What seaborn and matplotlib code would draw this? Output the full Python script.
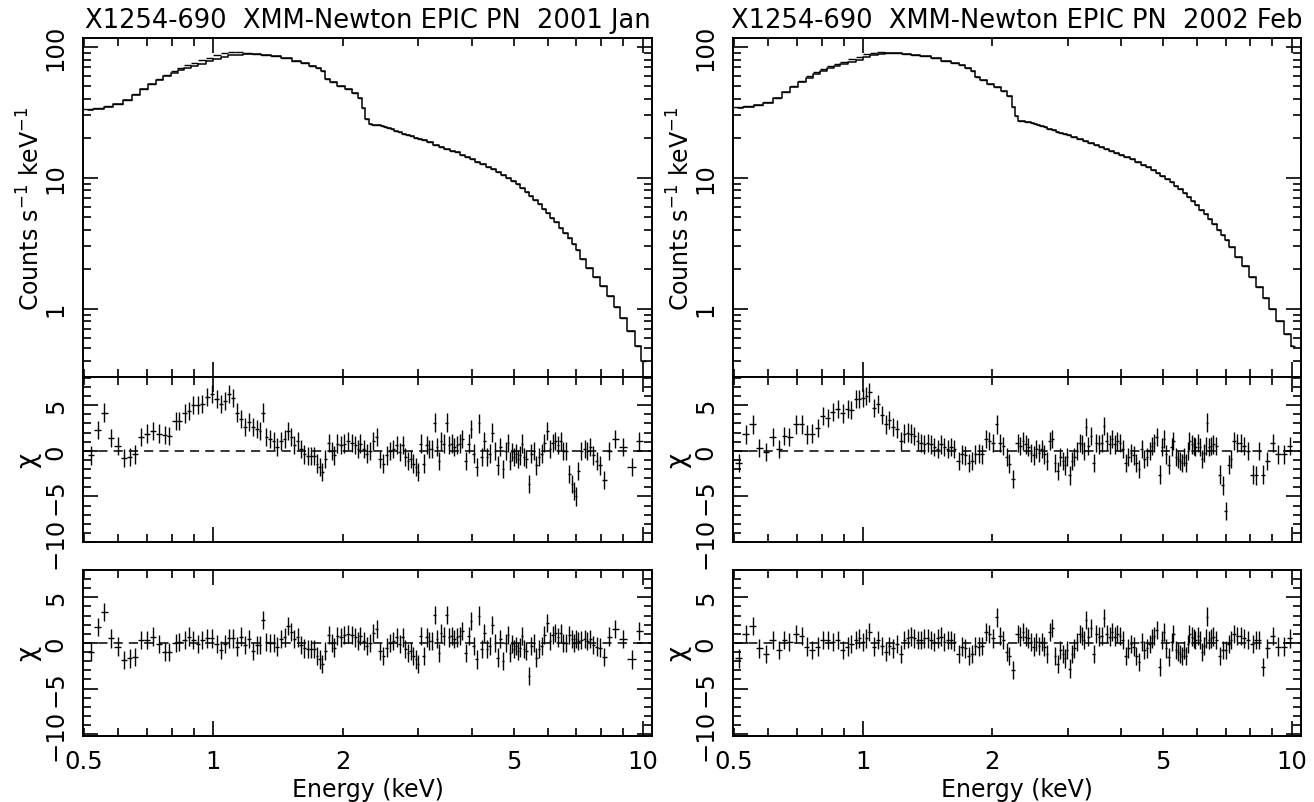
import numpy as np
import matplotlib
matplotlib.use("Agg")
import matplotlib.pyplot as plt
import seaborn as sns
from matplotlib.ticker import FixedLocator, FixedFormatter, NullFormatter


# titles
title_left = "X1254-690  XMM-Newton EPIC PN  2001 Jan"
title_right = "X1254-690  XMM-Newton EPIC PN  2002 Feb"

# spectrum bins (keV), shared by both observations
spec_energy = [
    0.51, 0.54, 0.57, 0.60, 0.63, 0.66, 0.69, 0.72, 0.75, 0.78, 0.81, 0.84, 0.87, 0.90,
    0.94, 0.98, 1.02, 1.06, 1.10, 1.15, 1.20, 1.26, 1.32,
    1.40, 1.48, 1.56, 1.64, 1.70, 1.76, 1.80, 1.84, 1.90, 1.98, 2.06, 2.14, 2.20, 2.24,
    2.28, 2.32,
    2.36, 2.40, 2.44, 2.48, 2.52, 2.56, 2.61, 2.66, 2.72, 2.78,
    2.84, 2.90, 2.96, 3.02, 3.10, 3.20, 3.30, 3.40, 3.50, 3.60,
    3.70, 3.80, 3.90, 4.00, 4.12, 4.25, 4.37, 4.50, 4.62, 4.75,
    4.87, 5.00, 5.12, 5.25, 5.37, 5.50, 5.62, 5.75, 5.87, 6.00,
    6.15, 6.30, 6.45, 6.60, 6.75, 6.90, 7.05, 7.25, 7.50, 7.80,
    8.10, 8.40, 8.70, 9.00, 9.40, 9.80, 10.05,
]

# 2001 Jan spectrum: data (counts s^-1 keV^-1)
spec_data_left = [
    33.5, 34.3, 35.3, 36.8, 39.5, 43.5, 48.0, 52.5, 57.0, 61.5, 66.0, 69.5, 72.5, 75.5,
    79.0, 82.5, 86.5, 89.5, 91.5, 91.0, 90.0, 89.0, 87.5,
    85.0, 82.0, 78.5, 75.0, 72.0, 68.5, 65.0, 57.0, 53.5, 50.5, 47.5, 44.5, 41.0, 34.0,
    28.0, 25.8,
    25.5, 25.3, 25.1, 24.8, 24.4, 24.0, 23.5, 22.9, 22.3, 21.7,
    21.2, 20.7, 20.3, 19.9, 19.3, 18.6, 17.9, 17.3, 16.7, 16.1,
    15.6, 15.0, 14.5, 13.9, 13.3, 12.7, 12.1, 11.6, 11.0, 10.5,
    10.0, 9.5, 8.9, 8.4, 7.8, 7.3, 6.8, 6.3, 5.8, 5.4,
    4.95, 4.55, 4.15, 3.8, 3.45, 3.1, 2.8, 2.4, 2.05, 1.75,
    1.5, 1.25, 1.02, 0.85, 0.68, 0.52, 0.40,
]
# model below 1.35 keV (above it the model sits on the data)
spec_model_soft_left = [
    32.8, 33.6, 34.8, 36.5, 39.3, 43.2, 47.5, 51.8, 55.8, 59.8, 63.5, 66.5, 69.0, 71.5,
    74.5, 77.5, 80.5, 83.5, 86.0, 87.5, 88.5, 88.5, 87.5,
]

# 2002 Feb spectrum: data
spec_data_right = [
    34.5, 35.3, 36.3, 37.8, 41.0, 45.5, 50.0, 55.0, 59.5, 64.0, 68.0, 71.5, 74.5, 77.0,
    80.5, 84.0, 88.0, 90.5, 91.0, 90.5, 90.0, 89.0, 87.5,
    85.0, 82.0, 78.5, 75.5, 72.5, 69.5, 66.0, 58.5, 55.5, 52.5, 49.5, 46.0, 42.5, 35.0,
    29.5, 27.2,
    27.0, 26.8, 26.6, 26.3, 25.9, 25.5, 24.9, 24.3, 23.6, 23.0,
    22.5, 22.0, 21.6, 21.2, 20.4, 19.7, 19.0, 18.3, 17.7, 17.1,
    16.5, 16.0, 15.5, 15.0, 14.4, 13.8, 13.2, 12.6, 12.0, 11.4,
    10.8, 10.3, 9.7, 9.2, 8.7, 8.2, 7.6, 7.1, 6.6, 6.2,
    5.7, 5.25, 4.8, 4.4, 4.0, 3.65, 3.35, 2.95, 2.5, 2.1,
    1.75, 1.45, 1.2, 1.0, 0.8, 0.64, 0.52,
]
spec_model_soft_right = [
    34.0, 34.8, 35.9, 37.5, 40.7, 45.0, 49.3, 54.0, 58.3, 62.5, 65.8, 68.7, 71.2, 73.5,
    76.5, 79.7, 83.3, 86.2, 88.3, 89.4, 89.6, 89.0, 87.5,
]

# 2001 Jan residual bins (keV)
res_energy_left = [
    0.519, 0.538, 0.557, 0.578, 0.598, 0.620, 0.639, 0.656, 0.678, 0.700,
    0.725, 0.748, 0.771, 0.789, 0.817, 0.832, 0.858, 0.878, 0.898, 0.921,
    0.943, 0.968, 0.994, 1.017, 1.040, 1.062, 1.087, 1.113, 1.137, 1.161,
    1.182, 1.209, 1.235, 1.265, 1.282, 1.306, 1.329, 1.358, 1.382, 1.407,
    1.433, 1.464, 1.493, 1.517, 1.544, 1.571, 1.600, 1.628, 1.657, 1.687,
    1.718, 1.743, 1.767, 1.790, 1.822, 1.854, 1.888, 1.911, 1.945, 1.981,
    2.016, 2.063, 2.101, 2.139, 2.176,
    2.197, 2.236, 2.276, 2.317, 2.358, 2.401, 2.444, 2.488, 2.533, 2.578,
    2.624, 2.672, 2.720, 2.759, 2.798, 2.843, 2.879, 2.920, 2.962, 2.999,
    3.037, 3.091, 3.136, 3.180, 3.226, 3.273, 3.308, 3.349, 3.391, 3.439,
    3.490, 3.538, 3.589, 3.641, 3.692, 3.745, 3.800, 3.869, 3.926, 3.981,
    4.039, 4.098, 4.155, 4.216, 4.276, 4.337, 4.399, 4.463, 4.525, 4.591,
    4.657, 4.722, 4.790, 4.850, 4.911, 4.965, 5.018, 5.073, 5.127, 5.182,
    5.237, 5.293, 5.350, 5.425, 5.503, 5.583, 5.643, 5.724, 5.808, 5.891,
    5.975, 6.083, 6.169, 6.258, 6.349, 6.437, 6.531, 6.627, 6.745, 6.844,
    6.917, 6.992, 7.066, 7.192, 7.320, 7.426, 7.533, 7.668, 7.805, 7.945,
    8.116, 8.350, 8.623, 8.966, 9.428, 9.803,
]
# residuals (chi) for the first and the second model, 2001 Jan
chi1_left = [
    -0.5, 2.3, 4.2, 1.4, 0.5, -0.8, -0.7, -0.4, 1.5, 1.9,
    2.2, 1.9, 1.7, 1.6, 3.3, 3.3, 4.1, 4.4, 5.0, 5.0,
    5.1, 5.9, 6.2, 5.7, 5.1, 5.5, 6.2, 5.8, 4.2, 3.5,
    2.6, 3.2, 2.6, 2.4, 2.2, 4.2, 1.5, 1.3, 1.1, 0.4,
    1.1, 1.3, 2.2, 1.5, 0.6, 1.1, 0.2, -0.4, -0.6, -0.6,
    -0.6, -1.4, -1.8, -2.3, -0.9, 0.9, 0.0, -0.5, 0.8, 0.6,
    0.8, 1.1, 0.9, 0.6, 0.2,
    0.8, 0.2, -0.3, 0.0, 1.1, 1.5, -0.9, -1.4, -0.5, 0.0,
    0.2, 0.6, -0.1, 0.6, -0.7, -1.1, -0.9, -1.4, -1.8, -2.3,
    0.8, -1.4, 0.6, 0.2, 0.2, 3.1, 0.4, -1.1, 1.1, 0.8,
    3.1, 0.6, 0.8, 0.4, 0.6, 0.8, 1.3, -1.1, 0.8, 2.4,
    -0.3, -1.8, 3.0, -0.7, 1.1, -0.7, -0.3, 2.0, 0.0, -1.6,
    0.4, -2.0, 0.0, 0.9, -1.1, -0.1, -0.7, -0.3, -0.9, -0.5,
    0.8, -0.7, -0.9, -3.6, -0.3, 0.0, -1.6, -0.7, -0.3, 0.9,
    2.2, 0.2, 0.9, 1.1, 0.6, 1.1, 0.0, 0.0, -2.5, -3.6,
    -4.4, -5.0, -2.2, 0.0, 0.2, 0.0, 0.4, -0.5, -1.1, -1.6,
    -3.2, 0.0, 1.3, 0.4, -1.8, 1.1,
]
chi2_left = [
    -1.0, 1.75, 3.4, 0.5, -0.4, -1.9, -1.7, -1.5, 0.3, 0.3,
    0.7, -0.1, -1.0, -1.0, 0.0, 0.1, 0.3, 0.7, 0.3, -0.1,
    0.3, 0.5, 0.5, -0.1, -0.8, -0.1, 0.5, 0.5, -0.4, 0.7,
    -0.2, 0.4, -0.9, -0.2, -0.2, 2.5, 0.1, 0.0, 0.0, -0.4,
    0.4, 0.6, 1.9, 1.2, 0.4, 0.6, -0.2, -0.6, -0.7, -0.7,
    -0.7, -1.4, -1.8, -2.3, -0.9, 0.9, 0.0, -0.5, 0.8, 0.6,
    0.9, 1.0, 0.9, 0.6, 0.2,
    0.8, 0.2, -0.3, 0.0, 1.1, 1.5, -0.9, -1.4, -0.5, 0.0,
    0.2, 0.6, -0.1, 0.6, -0.7, -1.1, -0.9, -1.4, -1.8, -2.3,
    0.8, -1.4, 0.6, 0.2, 0.2, 3.1, 0.4, -1.1, 1.1, 0.8,
    3.1, 0.6, 0.8, 0.4, 0.6, 0.8, 1.3, -1.1, 0.8, 2.4,
    -0.3, -1.8, 3.0, -0.7, 1.1, -0.7, -0.3, 2.0, 0.0, -1.6,
    0.4, -2.0, 0.0, 0.9, -1.1, -0.1, -0.7, -0.3, -0.9, -0.5,
    0.8, -0.7, -0.9, -3.6, -0.3, 0.0, -1.6, -0.7, -0.3, 0.9,
    2.2, 0.2, 0.9, 1.1, 0.6, 1.1, 0.0, 0.0, 0.9, 0.4,
    0.0, 0.4, 0.2, 0.3, 0.4, 0.2, 0.4, -0.2, -0.4, -0.5,
    -1.5, 0.7, 1.5, 0.4, -1.8, 1.3,
]

# 2002 Feb residual bins (keV)
res_energy_right = [
    0.5127, 0.5332, 0.5527, 0.5728, 0.5938, 0.6153, 0.6353, 0.6549, 0.6728, 0.6973,
    0.7202, 0.7385, 0.7600, 0.7833, 0.8045, 0.8265, 0.8492, 0.8723, 0.8961, 0.9205,
    0.9370, 0.9626, 0.9798, 1.001, 1.016, 1.034, 1.062, 1.081, 1.107, 1.131,
    1.151, 1.172, 1.198, 1.226, 1.247, 1.270, 1.293, 1.316, 1.340, 1.364,
    1.388, 1.414, 1.439, 1.465, 1.492, 1.519, 1.546, 1.574, 1.602, 1.631,
    1.670, 1.700, 1.730, 1.762, 1.793, 1.826, 1.859, 1.892, 1.934, 1.968,
    2.004, 2.048, 2.084, 2.121, 2.160, 2.190, 2.238,
    2.292, 2.325, 2.358, 2.393, 2.427, 2.462, 2.498, 2.534, 2.570, 2.607,
    2.644, 2.682, 2.721, 2.760, 2.801, 2.841, 2.882, 2.924, 2.956, 2.988,
    3.032, 3.064, 3.109, 3.154, 3.200, 3.243, 3.279, 3.314, 3.350, 3.398,
    3.448, 3.496, 3.546, 3.598, 3.648, 3.701, 3.755, 3.807, 3.863, 3.919,
    3.974, 4.032, 4.094, 4.152, 4.212, 4.273, 4.334, 4.397, 4.461, 4.524,
    4.589, 4.656, 4.720, 4.770, 4.840, 4.911, 4.965, 5.035, 5.089, 5.163,
    5.238, 5.294, 5.352, 5.410, 5.468, 5.527, 5.587, 5.647, 5.708, 5.769,
    5.832, 5.895, 5.958, 6.023, 6.088, 6.154, 6.221, 6.287, 6.332, 6.399,
    6.468, 6.562, 6.654, 6.799, 6.898, 7.000, 7.124, 7.201, 7.330, 7.464,
    7.598, 7.735, 7.902, 8.104, 8.250, 8.401, 8.583, 8.770, 9.031, 9.262,
    9.596, 9.877,
]
chi1_right = [
    -1.3, 1.8, 2.9, 0.3, -0.1, 1.5, 0.2, 1.6, 1.5, 2.9,
    2.9, 1.8, 1.9, 2.5, 3.8, 3.6, 4.3, 4.6, 4.1, 4.6,
    4.5, 5.7, 5.7, 5.8, 6.0, 6.4, 4.7, 5.1, 3.9, 2.9,
    3.4, 2.6, 2.4, 1.1, 1.9, 2.0, 1.9, 1.6, 1.1, 0.9,
    0.7, 0.9, 0.7, 0.4, 0.2, 0.7, 0.4, 0.2, 0.4, 0.2,
    -1.1, -0.4, -0.5, -1.3, -1.1, -0.4, -0.3, -0.4, 1.3, 1.1,
    0.9, 2.9, 0.9, 0.5, -0.7, -1.4, -3.1,
    0.9, 0.5, 1.1, 0.7, 0.4, -0.2, -0.5, 0.2, -0.2, 0.2,
    -0.4, -1.1, 1.1, 1.3, -1.3, -2.2, -0.7, -1.1, -1.6, -0.7,
    -2.7, -1.1, -0.7, 0.0, 0.9, 0.7, 0.0, 2.6, 0.5, 1.6,
    -1.3, 0.9, 0.7, 0.9, 2.7, 1.1, 0.7, 1.3, 0.7, 1.1,
    0.9, 0.2, -1.3, -0.7, -0.2, -0.5, -1.3, -2.0, 0.2, -0.9,
    -0.7, 0.0, 0.5, 0.9, 1.5, -2.6, 0.4, 1.3, -0.4, -1.5,
    0.4, 1.1, -0.7, -0.9, -1.1, -1.3, -0.7, -1.3, 0.0, 1.1,
    0.7, 0.5, 0.4, 0.9, 0.4, -0.9, -0.2, 0.5, 3.1, 0.4,
    0.5, 0.7, 0.5, -2.6, -3.8, -6.6, -1.5, -0.9, 1.1, 0.9,
    0.9, 0.5, 0.0, -2.6, -2.7, 0.0, -2.6, -1.1, 0.9, -0.4,
    -0.4, 0.5,
]
chi2_right = [
    -1.7, 1.0, 1.9, -0.6, -1.2, 0.3, -0.8, 0.3, 0.1, 1.0,
    0.8, -0.4, -0.8, -0.4, 0.3, 0.3, 0.1, 0.3, -0.8, -0.4,
    -0.1, 0.3, 0.5, 0.1, 0.5, 1.2, -0.4, 0.3, -0.3, -1.0,
    -0.3, -0.6, -0.1, -1.2, 0.3, 0.5, 0.7, 0.5, 0.3, 0.3,
    0.5, 0.5, 0.3, 0.1, 0.5, 0.7, 0.1, 0.3, 0.3, 0.1,
    -1.2, -0.4, -0.6, -1.4, -1.2, -0.3, -0.4, -0.3, 1.2, 1.0,
    0.5, 2.8, 0.8, 0.3, -1.0, -1.4, -3.0,
    1.0, 0.7, 1.2, 0.7, 0.5, 0.1, -0.4, 0.1, -0.3, 0.1,
    -0.4, -1.2, 1.2, 1.6, -1.4, -2.3, -0.8, -1.2, -1.7, -0.8,
    -2.8, -1.2, -0.6, 0.1, 1.0, 0.8, 0.3, 2.5, 0.7, 1.6,
    -1.2, 1.0, 0.7, 0.8, 2.7, 1.0, 0.7, 1.2, 0.7, 1.0,
    0.8, 0.3, -1.4, -0.6, -0.1, -0.4, -1.4, -2.1, 0.1, -0.8,
    -0.6, -0.1, 0.5, 0.8, 1.4, -2.6, 0.3, 1.2, -0.6, -1.5,
    0.1, 1.0, -0.8, -1.0, -1.2, -1.4, -0.8, -1.4, -0.1, 1.0,
    0.7, 0.5, 0.3, 0.8, 0.3, -1.0, -0.3, 0.5, 2.9, 0.3,
    0.5, 0.7, 0.3, -1.4, -0.8, -0.8, -0.1, 0.3, 1.0, 0.8,
    0.8, 0.5, 0.3, -0.1, 0.3, 0.3, -2.6, -0.6, 0.8, -0.4,
    -0.4, 0.5,
]

# tick values and labels
energy_major = [1, 10]
energy_major_labels = ["1", "10"]
energy_minor = [0.5, 0.6, 0.7, 0.8, 0.9, 2, 3, 4, 5, 6, 7, 8, 9]
energy_minor_labels = ["0.5", "", "", "", "", "2", "", "", "5", "", "", "", ""]
counts_major = [1, 10, 100]
counts_major_labels = ["1", "10", "100"]
counts_minor = [0.3, 0.4, 0.5, 0.6, 0.7, 0.8, 0.9, 2, 3, 4, 5, 6, 7, 8, 9,
                20, 30, 40, 50, 60, 70, 80, 90]
chi_major = [-10, -5, 0, 5]
chi_major_labels = ["\u221210", "\u22125", "0", "5"]
chi_minor = [-9, -8, -7, -6, -4, -3, -2, -1, 1, 2, 3, 4, 6, 7, 8]


# style
sns.set_style("ticks")
plt.rcParams["font.family"] = ["DejaVu Sans"]
plt.rcParams["mathtext.default"] = "regular"
plt.rcParams["axes.linewidth"] = 1.4
for key in ["text.color", "axes.labelcolor", "axes.edgecolor", "xtick.color", "ytick.color"]:
    plt.rcParams[key] = "black"

TICK_FS = 17.5
LABEL_FS = 17
TITLE_FS = 18.5
W, H = 1314, 803

fig = plt.figure(figsize=(13.14, 8.03), dpi=100)


def box(x0, x1, y0, y1):
    # pixel box -> figure fraction
    return [x0 / W, 1 - y1 / H, (x1 - x0) / W, (y1 - y0) / H]


def bin_halfwidths(e):
    e = np.asarray(e, dtype=float)
    mid = np.sqrt(e[1:] * e[:-1])
    lo = np.r_[e[0] ** 2 / mid[0], mid]
    hi = np.r_[mid, e[-1] ** 2 / mid[-1]]
    return e - lo, hi - e


def style_energy_axis(ax, show_labels):
    ax.set_xscale("log")
    ax.set_xlim(0.497, 10.5)
    ax.xaxis.set_major_locator(FixedLocator(energy_major))
    ax.xaxis.set_minor_locator(FixedLocator(energy_minor))
    if show_labels:
        ax.xaxis.set_major_formatter(FixedFormatter(energy_major_labels))
        ax.xaxis.set_minor_formatter(FixedFormatter(energy_minor_labels))
    else:
        ax.xaxis.set_major_formatter(NullFormatter())
        ax.xaxis.set_minor_formatter(NullFormatter())
    ax.tick_params(axis="x", which="both", direction="in", top=True, bottom=True,
                   labelsize=TICK_FS, pad=9.5, width=1.2)
    ax.tick_params(axis="x", which="major", length=11)
    ax.tick_params(axis="x", which="minor", length=6)


def style_y_axis(ax, major, labels, minor):
    ax.yaxis.set_major_locator(FixedLocator(major))
    ax.yaxis.set_major_formatter(FixedFormatter(labels))
    ax.yaxis.set_minor_locator(FixedLocator(minor))
    ax.yaxis.set_minor_formatter(NullFormatter())
    ax.tick_params(axis="y", which="both", direction="in", left=True, right=True,
                   labelsize=TICK_FS, pad=11, width=1.2, labelrotation=90)
    ax.tick_params(axis="y", which="major", length=11)
    ax.tick_params(axis="y", which="minor", length=6)
    for lab in ax.get_yticklabels():
        lab.set_va("center")


def draw_observation(x0, x1, title, spec_data, spec_model, res_e, chi_a, chi_b):
    # spectrum: data crosses and folded model as a histogram line
    ax = fig.add_axes(box(x0, x1, 39, 378))
    ax.set_xscale("log")
    ax.set_yscale("log")
    lo, hi = bin_halfwidths(spec_energy)
    ax.errorbar(spec_energy, spec_data, xerr=[lo, hi], fmt="none",
                ecolor="black", elinewidth=1.0, capsize=0)
    sns.lineplot(x=spec_energy, y=spec_model, drawstyle="steps-mid", color="black",
                 linewidth=1.1, estimator=None, sort=False, ax=ax)
    style_energy_axis(ax, False)
    ax.set_ylim(0.3, 117)
    style_y_axis(ax, counts_major, counts_major_labels, counts_minor)
    ax.set_ylabel("Counts s$^{-1}$ keV$^{-1}$", fontsize=LABEL_FS)
    ax.yaxis.set_label_coords(-0.068, 0.5)
    ax.set_title(title, fontsize=TITLE_FS, pad=8)

    # residual panels
    lo, hi = bin_halfwidths(res_e)
    panels = [(378, 543, chi_a, (-10, 8.1)), (571, 737, chi_b, (-10.2, 8.0))]
    for i, (y0, y1, chi, ylim) in enumerate(panels):
        rax = fig.add_axes(box(x0, x1, y0, y1))
        rax.set_xscale("log")
        rax.axhline(0, color="black", linewidth=1.1, linestyle=(0, (6, 4)))
        rax.errorbar(res_e, chi, xerr=[lo, hi], yerr=1.0, fmt="none",
                     ecolor="black", elinewidth=1.0, capsize=0)
        style_energy_axis(rax, i == 1)
        rax.set_ylim(*ylim)
        style_y_axis(rax, chi_major, chi_major_labels, chi_minor)
        rax.set_ylabel(r"$\chi$", fontsize=LABEL_FS + 2)
        rax.yaxis.set_label_coords(-0.068, 0.5)
        if i == 1:
            rax.set_xlabel("Energy (keV)", fontsize=LABEL_FS, labelpad=3)


draw_observation(83, 652, title_left, spec_data_left,
                 spec_model_soft_left + spec_data_left[23:],
                 res_energy_left, chi1_left, chi2_left)
draw_observation(733, 1301, title_right, spec_data_right,
                 spec_model_soft_right + spec_data_right[23:],
                 res_energy_right, chi1_right, chi2_right)

fig.savefig("out.png", dpi=100)
